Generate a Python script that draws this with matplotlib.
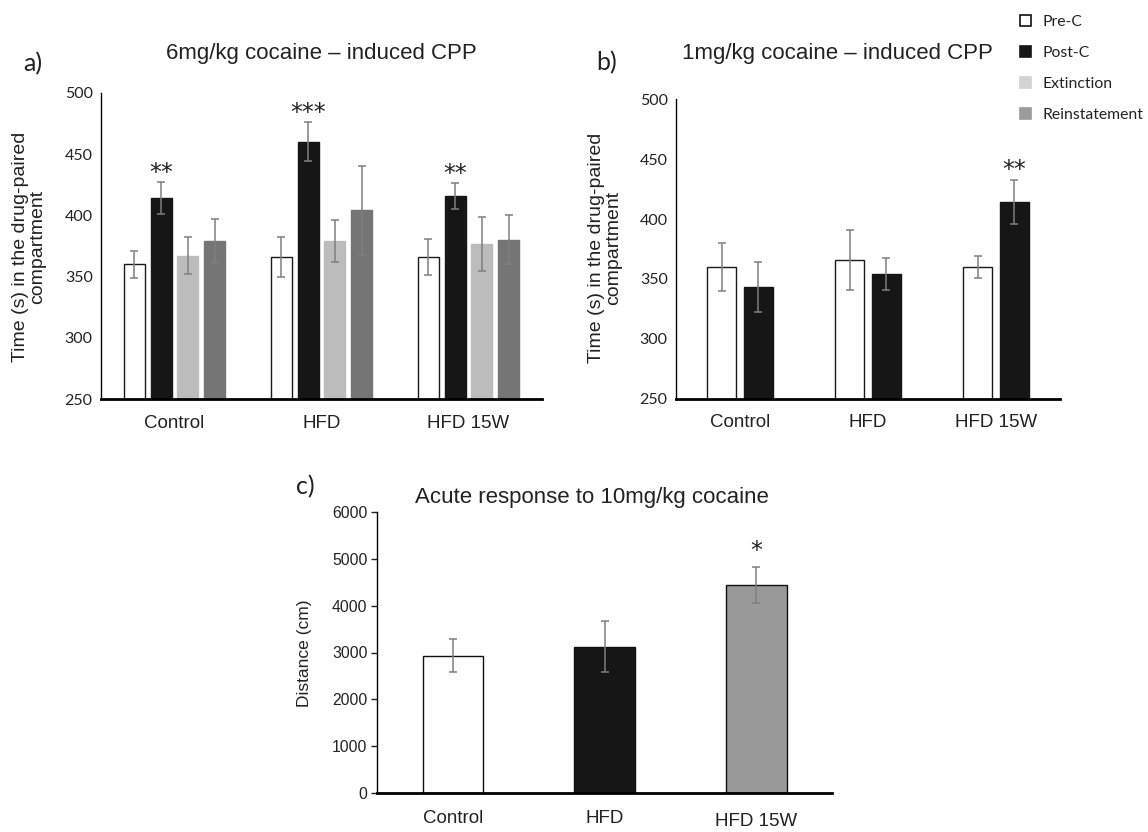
import matplotlib
matplotlib.use("Agg")
import matplotlib.pyplot as plt
from matplotlib.patches import Patch
import numpy as np

# ---------------- data ----------------
groups = ["Control", "HFD", "HFD 15W"]
phases = ["Pre-C", "Post-C", "Extinction", "Reinstatement"]

a_pre = [360, 366, 366]
a_pre_err = [11, 16, 15]
a_post = [414, 460, 416]
a_post_err = [13, 16, 10.5]
a_ext = [367, 379, 377]
a_ext_err = [15, 17, 22]
a_rein = [379, 404, 380]
a_rein_err = [18, 36, 20]
a_stars = ["**", "***", "**"]

b_pre = [360, 366, 360]
b_pre_err = [20, 25, 9]
b_post = [343, 354, 414]
b_post_err = [21, 13.5, 18.5]
b_stars = ["", "", "**"]

c_dist = [2934, 3127, 4441]
c_err = [355, 547, 387]
c_stars = ["", "", "*"]

cpp_ticks = [250, 300, 350, 400, 450, 500]
dist_ticks = [0, 1000, 2000, 3000, 4000, 5000, 6000]

# ---------------- style ----------------
W, H = 1148, 832
fig = plt.figure(figsize=(W / 100, H / 100), dpi=100)

ARIAL = "Liberation Sans"
CALIBRI = "Lato"
TXT = "#222222"
ERR = "#7f7f7f"
bar_colors = ["white", "#161616", "#bcbcbc", "#757575"]
legend_colors = ["white", "#161616", "#d3d3d3", "#9b9b9b"]
c_colors = ["white", "#161616", "#999999"]


def px_axes(l, t, r, b):
    return fig.add_axes([l / W, 1 - b / H, (r - l) / W, (b - t) / H])


def style_axes(ax, yfont, yticksize, ticks_on=False):
    for s in ["top", "right"]:
        ax.spines[s].set_visible(False)
    ax.spines["left"].set_linewidth(1.0)
    ax.spines["bottom"].set_linewidth(2.0)
    ax.spines["left"].set_color("black")
    ax.spines["bottom"].set_color("black")
    ax.tick_params(axis="x", length=0, pad=11, labelsize=13.5, colors=TXT)
    if ticks_on:
        ax.tick_params(axis="y", length=4, width=1, pad=3, labelsize=yticksize, colors=TXT, direction="out")
    else:
        ax.tick_params(axis="y", length=0, pad=6, labelsize=yticksize, colors=TXT)
    for lab in ax.get_xticklabels():
        lab.set_fontfamily(ARIAL)
    for lab in ax.get_yticklabels():
        lab.set_fontfamily(yfont)


x = np.arange(len(groups))
ekw = dict(ecolor=ERR, elinewidth=1.1, capsize=3, capthick=1.1)
star_kw = dict(ha="center", va="baseline", color=TXT, family="DejaVu Sans")

# ---------------- panel a ----------------
axa = px_axes(101, 92.7, 542, 399.3)
sp_a, w_a = 0.183, 0.143
series_a = [(a_pre, a_pre_err), (a_post, a_post_err), (a_ext, a_ext_err), (a_rein, a_rein_err)]
for i, (vals, errs) in enumerate(series_a):
    off = (i - 1.5) * sp_a
    axa.bar(x + off, vals, width=w_a, color=bar_colors[i],
            edgecolor="#1a1a1a" if i == 0 else bar_colors[i], linewidth=1.0,
            yerr=errs, error_kw=ekw, zorder=2)
for gi, s in enumerate(a_stars):
    if s:
        axa.text(x[gi] - 0.5 * sp_a, a_post[gi] + a_post_err[gi] + 1.5, s, fontsize=17, **star_kw)
axa.set_ylim(250, 500)
axa.set_yticks(cpp_ticks)
axa.set_xlim(-0.5, 2.5)
axa.set_xticks(x)
axa.set_xticklabels(groups)
style_axes(axa, CALIBRI, 11.5)

fig.text(321.5 / W, 1 - 54 / H, "6mg/kg cocaine – induced CPP", ha="center", va="center",
         fontsize=16, family=ARIAL, color=TXT)
fig.text(33 / W, 1 - 64 / H, "a)", ha="center", va="center", fontsize=18, family=CALIBRI, color=TXT)
fig.text(29 / W, 1 - 247 / H, "Time (s) in the drug-paired\ncompartment", ha="center", va="center",
         rotation=90, fontsize=14, family=ARIAL, color=TXT, linespacing=1.0, multialignment="center")

# ---------------- panel b ----------------
axb = px_axes(676, 99.3, 1060, 398.7)
sp_b, w_b = 0.289, 0.23
series_b = [(b_pre, b_pre_err), (b_post, b_post_err)]
for i, (vals, errs) in enumerate(series_b):
    off = (i - 0.5) * sp_b
    axb.bar(x + off, vals, width=w_b, color=bar_colors[i],
            edgecolor="#1a1a1a" if i == 0 else bar_colors[i], linewidth=1.0,
            yerr=errs, error_kw=ekw, zorder=2)
for gi, s in enumerate(b_stars):
    if s:
        axb.text(x[gi] + 0.5 * sp_b, b_post[gi] + b_post_err[gi] + 3, s, fontsize=17, **star_kw)
axb.set_ylim(250, 500)
axb.set_yticks(cpp_ticks)
axb.set_xlim(-0.5, 2.5)
axb.set_xticks(x)
axb.set_xticklabels(groups)
style_axes(axb, CALIBRI, 11.5)

fig.text(837 / W, 1 - 53.5 / H, "1mg/kg cocaine – induced CPP", ha="center", va="center",
         fontsize=16, family=ARIAL, color=TXT)
fig.text(607 / W, 1 - 63 / H, "b)", ha="center", va="center", fontsize=18, family=CALIBRI, color=TXT)
fig.text(605 / W, 1 - 248 / H, "Time (s) in the drug-paired\ncompartment", ha="center", va="center",
         rotation=90, fontsize=14, family=ARIAL, color=TXT, linespacing=1.0, multialignment="center")

handles = [Patch(facecolor=legend_colors[i], edgecolor="#111111" if i == 0 else legend_colors[i],
                 linewidth=1.2, label=phases[i]) for i in range(4)]
leg = fig.legend(handles=handles, loc="upper left", bbox_to_anchor=(1014 / W, 1 - 9 / H),
                 frameon=False, fontsize=11.3, handlelength=0.7, handleheight=0.7,
                 handletextpad=0.7, labelspacing=1.08, borderaxespad=0)
for t in leg.get_texts():
    t.set_fontfamily(CALIBRI)
    t.set_color(TXT)

# ---------------- panel c ----------------
axc = px_axes(377.3, 511.7, 832.3, 793.3)
axc.bar(x, c_dist, width=0.4, color=c_colors, edgecolor="#111111", linewidth=1.0,
        yerr=c_err, error_kw=ekw, zorder=2)
for gi, s in enumerate(c_stars):
    if s:
        axc.text(x[gi], c_dist[gi] + c_err[gi] + 186, s, fontsize=17, **star_kw)
axc.set_ylim(0, 6000)
axc.set_yticks(dist_ticks)
axc.set_xlim(-0.5, 2.5)
axc.set_xticks(x)
axc.set_xticklabels(groups)
style_axes(axc, ARIAL, 11.3, ticks_on=True)
axc.tick_params(axis="x", pad=12)
axc.get_xticklabels()[2].set_y(-0.012)

fig.text(592 / W, 1 - 498 / H, "Acute response to 10mg/kg cocaine", ha="center", va="center",
         fontsize=16, family=ARIAL, color=TXT)
fig.text(305 / W, 1 - 487 / H, "c)", ha="center", va="center", fontsize=18, family=CALIBRI, color=TXT)
fig.text(305 / W, 1 - 653 / H, "Distance (cm)", ha="center", va="center", rotation=90,
         fontsize=12.5, family=ARIAL, color=TXT)

fig.savefig("out.png", dpi=100, facecolor="white")
